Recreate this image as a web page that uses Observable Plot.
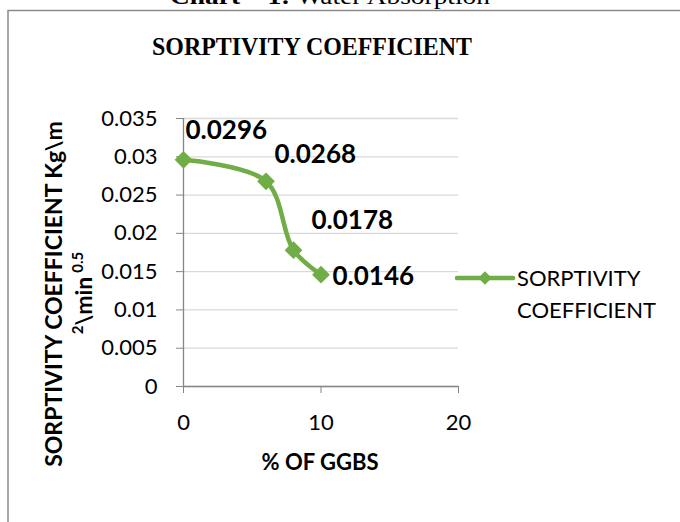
<!DOCTYPE html>
<html>
<head>
<meta charset="utf-8">
<script src="https://cdn.jsdelivr.net/npm/d3@7"></script>
<script src="https://cdn.jsdelivr.net/npm/@observablehq/plot@0.6"></script>
<style>
  html, body { margin: 0; padding: 0; background: #fff; }
  #chart svg { display: block; }
</style>
</head>
<body>
<div id="chart"></div>
<script>
// ---- data ----
const ggbsPercent = [0, 6, 8, 10];
const sorptivity = [0.0296, 0.0268, 0.0178, 0.0146];
const xTicks = [0, 10, 20];
const yTicks = [0, 0.005, 0.01, 0.015, 0.02, 0.025, 0.03, 0.035];
const seriesName = ["SORPTIVITY", "COEFFICIENT"];
const chartTitle = "SORPTIVITY COEFFICIENT";
const xTitle = "% OF GGBS";
const yTitleLine1 = "SORPTIVITY COEFFICIENT Kg\\m";
const yTitleLine2 = ["2", "\\min", "0.5"];
const captionBold = "Chart – 1:";
const captionRest = " Water Absorption";

// ---- chart ----
const green = "#70AD47";
const axisGray = "#868686";
const sans = "Lato, 'Open Sans', sans-serif";
const serif = "'Liberation Serif', 'DejaVu Serif', serif";
const fmt = d3.format(".4f");

const data = ggbsPercent.map((x, i) => ({x, y: sorptivity[i], label: fmt(sorptivity[i])}));

// per-point label offsets (style only)
const labelOffsets = [[2, -21], [8.5, -18], [18, -21], [11.5, 10]];

const labelMarks = labelOffsets.map(([dx, dy], i) =>
  Plot.text([data[i]], {
    x: "x", y: "y", text: "label",
    dx, dy, textAnchor: "start", lineAnchor: "bottom",
    fontWeight: "bold", fontSize: 26, fill: "#000"
  })
);

const plot = Plot.plot({
  width: 680,
  height: 522,
  marginLeft: 183,
  marginRight: 222,
  marginTop: 118,
  marginBottom: 136,
  style: {fontFamily: sans, fontSize: "22px", color: "#000", background: "transparent"},
  x: {domain: [0, 20], ticks: xTicks},
  y: {domain: [0, 0.035], ticks: yTicks},
  marks: [
    Plot.gridY(yTicks, {stroke: "#D9D9D9", strokeOpacity: 1, strokeWidth: 1.3}),
    Plot.ruleY([0], {stroke: axisGray, strokeWidth: 1.3}),
    Plot.ruleX([0], {stroke: axisGray, strokeWidth: 1.3}),
    Plot.axisY(yTicks, {
      tickSize: 7, tickPadding: 19, stroke: axisGray, fill: "#000",
      tickFormat: d => String(d), label: null, fontSize: 22
    }),
    Plot.axisX(xTicks, {
      tickSize: 7, tickPadding: 21, stroke: axisGray, fill: "#000",
      tickFormat: d => String(d), label: null, fontSize: 22
    }),
    Plot.line(data, {x: "x", y: "y", curve: "catmull-rom", stroke: green, strokeWidth: 4.5}),
    Plot.dot(data, {x: "x", y: "y", symbol: "diamond2", r: 8, fill: green, stroke: "none"}),
    ...labelMarks
  ]
});

document.getElementById("chart").appendChild(plot);

// ---- decorations (border, titles, legend) ----
const svg = d3.select(plot);

svg.insert("rect", ":first-child")
  .attr("x", 8).attr("y", 10.5).attr("width", 700).attr("height", 540)
  .attr("fill", "none").attr("stroke", "#8C8C8C").attr("stroke-width", 1.5);

// caption above the chart box (partly cut off)
const cap = svg.append("text")
  .attr("x", 170).attr("y", 4)
  .attr("text-anchor", "start")
  .attr("font-family", serif).attr("font-size", 24).attr("fill", "#000")
  .attr("textLength", 320).attr("lengthAdjust", "spacingAndGlyphs");
cap.append("tspan").attr("font-weight", "bold").text(captionBold);
cap.append("tspan").text(captionRest);

// chart title
svg.append("text")
  .attr("x", 152).attr("y", 55)
  .attr("text-anchor", "start")
  .attr("font-family", serif).attr("font-weight", "bold").attr("font-size", 25).attr("fill", "#000")
  .attr("textLength", 320).attr("lengthAdjust", "spacingAndGlyphs")
  .text(chartTitle);

// x axis title
svg.append("text")
  .attr("x", 320).attr("y", 470)
  .attr("text-anchor", "middle")
  .attr("font-family", sans).attr("font-weight", "bold").attr("font-size", 22).attr("fill", "#000")
  .text(xTitle);

// y axis title (two lines, rotated)
svg.append("text")
  .attr("transform", "translate(62,294) rotate(-90)")
  .attr("text-anchor", "middle")
  .attr("font-family", sans).attr("font-weight", "bold").attr("font-size", 23).attr("fill", "#000")
  .text(yTitleLine1);
const y2 = svg.append("text")
  .attr("transform", "translate(92,293) rotate(-90)")
  .attr("text-anchor", "middle")
  .attr("font-family", sans).attr("font-weight", "bold").attr("font-size", 23).attr("fill", "#000");
y2.append("tspan").attr("font-size", 15).attr("dy", -9).text(yTitleLine2[0]);
y2.append("tspan").attr("dy", 9).text(yTitleLine2[1]);
y2.append("tspan").attr("font-size", 15).attr("dy", -9).attr("dx", 4).text(yTitleLine2[2]);

// legend
const lg = svg.append("g");
lg.append("line")
  .attr("x1", 457).attr("x2", 513).attr("y1", 278).attr("y2", 278)
  .attr("stroke", green).attr("stroke-width", 4.5).attr("stroke-linecap", "round");
lg.append("path")
  .attr("d", d3.symbol(d3.symbolDiamond2, Math.PI * 36)())
  .attr("transform", "translate(485,278)")
  .attr("fill", green);
seriesName.forEach((t, i) => {
  lg.append("text")
    .attr("x", 517).attr("y", 286 + i * 32)
    .attr("text-anchor", "start")
    .attr("font-family", sans).attr("font-size", 22).attr("fill", "#000")
    .text(t);
});
</script>
</body>
</html>
